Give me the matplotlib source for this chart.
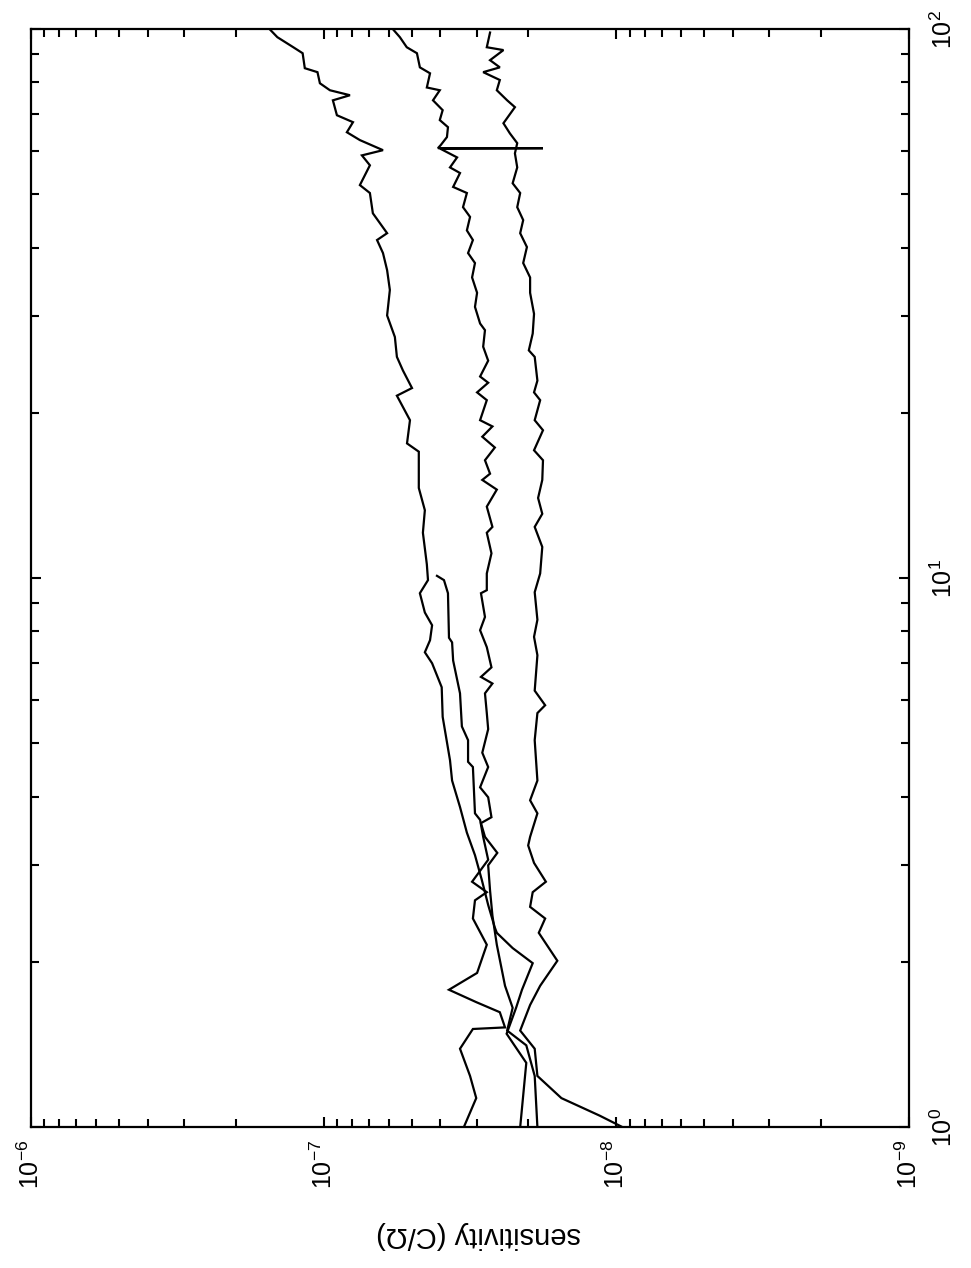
import matplotlib.pyplot as plt
from matplotlib.ticker import NullFormatter, LogLocator

plt.rcParams['font.family'] = ['Liberation Sans', 'DejaVu Sans']
plt.rcParams['mathtext.fontset'] = 'custom'
plt.rcParams['mathtext.rm'] = 'Liberation Sans'
plt.rcParams['mathtext.default'] = 'regular'

c1_freq = [100, 96.7, 92.7, 90.4, 84.9, 83.5, 79.7, 77.4, 75.8, 74.2, 69.7, 67.7,
           64.9, 62.8, 60.2, 58.9, 56.5, 52.0, 50.3, 46.2, 42.5, 41.3, 39.1, 36.4,
           33.5, 30.1, 27.5, 25.3, 23.9, 22.2, 21.5, 19.4, 17.6, 17.0, 14.6, 13.3,
           12.1, 10.6, 9.92, 9.39, 8.66, 8.21, 7.71, 7.33, 7.00, 6.33, 5.59, 4.66,
           4.28, 3.83, 3.44, 3.13, 2.82, 2.54, 2.31, 2.26, 2.12, 1.99, 1.78, 1.65,
           1.48, 1.31, 1.00]
c1_sens = [1.53e-7, 1.44e-7, 1.27e-7, 1.18e-7, 1.16e-7, 1.05e-7, 1.03e-7, 9.52e-8,
           8.13e-8, 9.30e-8, 9.01e-8, 7.94e-8, 8.33e-8, 7.52e-8, 6.27e-8, 7.40e-8,
           6.95e-8, 7.52e-8, 6.95e-8, 6.79e-8, 6.07e-8, 6.57e-8, 6.27e-8, 6.07e-8,
           5.94e-8, 6.07e-8, 5.71e-8, 5.62e-8, 5.36e-8, 4.99e-8, 5.62e-8, 5.07e-8,
           5.19e-8, 4.73e-8, 4.73e-8, 4.51e-8, 4.58e-8, 4.44e-8, 4.40e-8, 4.69e-8,
           4.51e-8, 4.26e-8, 4.33e-8, 4.51e-8, 4.26e-8, 3.95e-8, 3.92e-8, 3.70e-8,
           3.64e-8, 3.42e-8, 3.24e-8, 3.04e-8, 2.88e-8, 2.74e-8, 2.60e-8, 2.56e-8,
           2.26e-8, 1.93e-8, 2.10e-8, 2.20e-8, 2.37e-8, 2.03e-8, 2.13e-8]

c2_freq = [100, 96.7, 92.7, 90.4, 85.2, 83.1, 78.3, 77.4, 74.2, 71.2, 68.3, 66.3,
           63.6, 61.5, 60.7, 60.7, 60.6, 58.4, 56.0, 54.7, 51.6, 50.3, 47.4, 45.5,
           43.0, 41.3, 39.1, 37.5, 35.3, 33.1, 31.2, 29.1, 28.3, 26.4, 24.9, 23.3,
           22.7, 21.8, 21.1, 19.4, 18.9, 18.1, 17.3, 16.4, 15.5, 15.1, 14.5, 13.5,
           12.4, 12.1, 11.1, 10.2, 9.51, 9.39, 8.50, 8.04, 7.49, 6.88, 6.61, 6.43,
           6.17, 5.68, 5.31, 4.81, 4.53, 4.16, 3.99, 3.67, 3.58, 3.38, 3.16, 3.00,
           2.70, 2.43, 2.15, 1.81, 1.65, 1.50, 1.41, 1.24, 1.00]
c2_sens = [5.80e-8, 5.49e-8, 5.20e-8, 4.80e-8, 4.69e-8, 4.33e-8, 4.44e-8, 4.01e-8,
           4.23e-8, 3.92e-8, 4.01e-8, 3.76e-8, 3.79e-8, 3.98e-8, 4.07e-8, 1.78e-8,
           4.00e-8, 3.50e-8, 3.70e-8, 3.42e-8, 3.61e-8, 3.24e-8, 3.34e-8, 3.16e-8,
           3.24e-8, 3.09e-8, 3.21e-8, 3.04e-8, 3.11e-8, 2.99e-8, 3.04e-8, 2.92e-8,
           2.81e-8, 2.85e-8, 2.74e-8, 2.92e-8, 2.74e-8, 2.99e-8, 2.77e-8, 2.92e-8,
           2.65e-8, 2.87e-8, 2.60e-8, 2.81e-8, 2.70e-8, 2.87e-8, 2.56e-8, 2.77e-8,
           2.65e-8, 2.77e-8, 2.67e-8, 2.77e-8, 2.77e-8, 2.90e-8, 2.81e-8, 2.92e-8,
           2.77e-8, 2.67e-8, 2.90e-8, 2.65e-8, 2.81e-8, 2.77e-8, 2.74e-8, 2.87e-8,
           2.74e-8, 2.92e-8, 2.74e-8, 2.67e-8, 2.90e-8, 2.81e-8, 2.55e-8, 2.74e-8,
           2.70e-8, 2.65e-8, 2.56e-8, 2.40e-8, 2.26e-8, 2.36e-8, 2.03e-8, 1.90e-8,
           1.86e-8]

c3_freq = [98.6, 92.7, 91.6, 87.8, 85.2, 83.5, 80.8, 77.4, 74.2, 72.1, 67.4, 64.6,
           62.0, 59.4, 56.0, 52.4, 50.3, 47.4, 44.9, 42.5, 40.1, 37.5, 35.3, 33.1,
           30.3, 27.9, 26.0, 25.3, 22.9, 21.8, 21.1, 19.4, 18.6, 17.1, 16.4, 15.1,
           14.0, 13.1, 12.4, 11.4, 10.2, 9.43, 8.40, 7.82, 7.24, 6.24, 5.87, 5.68,
           5.07, 4.28, 3.94, 3.73, 3.38, 3.26, 3.03, 2.80, 2.68, 2.52, 2.40, 2.26,
           2.01, 1.81, 1.67, 1.50, 1.39, 1.24, 1.13, 1.05, 1.00]
c3_sens = [2.70e-8, 2.77e-8, 2.43e-8, 2.70e-8, 2.50e-8, 2.85e-8, 2.50e-8, 2.56e-8,
           2.36e-8, 2.22e-8, 2.43e-8, 2.31e-8, 2.18e-8, 2.22e-8, 2.18e-8, 2.26e-8,
           2.13e-8, 2.18e-8, 2.08e-8, 2.13e-8, 2.02e-8, 2.08e-8, 1.97e-8, 1.97e-8,
           1.91e-8, 1.93e-8, 1.99e-8, 1.90e-8, 1.86e-8, 1.91e-8, 1.82e-8, 1.90e-8,
           1.78e-8, 1.91e-8, 1.78e-8, 1.79e-8, 1.85e-8, 1.79e-8, 1.90e-8, 1.79e-8,
           1.82e-8, 1.90e-8, 1.86e-8, 1.91e-8, 1.86e-8, 1.90e-8, 1.75e-8, 1.86e-8,
           1.90e-8, 1.86e-8, 1.97e-8, 1.86e-8, 1.97e-8, 2.00e-8, 1.91e-8, 1.74e-8,
           1.93e-8, 1.97e-8, 1.75e-8, 1.84e-8, 1.59e-8, 1.82e-8, 1.97e-8, 2.13e-8,
           1.90e-8, 1.86e-8, 1.54e-8, 1.14e-8, 9.5e-9]

c4_freq = [10.1, 9.92, 9.39, 7.79, 7.64, 7.08, 6.17, 5.37, 5.07, 4.63, 4.53, 3.73,
           3.63, 3.38, 3.07, 2.80, 2.68, 2.59, 2.40, 2.15, 1.91, 1.78, 1.69, 1.62,
           1.52, 1.51, 1.39, 1.24, 1.13, 1.00]
c4_sens = [4.10e-8, 3.88e-8, 3.76e-8, 3.73e-8, 3.64e-8, 3.61e-8, 3.42e-8, 3.37e-8,
           3.21e-8, 3.21e-8, 3.09e-8, 3.04e-8, 2.92e-8, 2.85e-8, 2.74e-8, 3.11e-8,
           2.77e-8, 3.04e-8, 3.09e-8, 2.77e-8, 2.99e-8, 3.73e-8, 3.01e-8, 2.50e-8,
           2.40e-8, 3.09e-8, 3.42e-8, 3.16e-8, 3.01e-8, 3.32e-8]

sens_ticks = [1e-6, 1e-7, 1e-8, 1e-9]
sens_labels = ['$10^{-6}$', '$10^{-7}$', '$10^{-8}$', '$10^{-9}$']
freq_ticks = [1, 10, 100]
freq_labels = ['$10^{0}$', '$10^{1}$', '$10^{2}$']

fig = plt.figure(figsize=(9.71, 12.68), dpi=100, facecolor='white')
ax = fig.add_axes([0.032, 0.111, 0.904, 0.866])

for s, f in [(c1_sens, c1_freq), (c2_sens, c2_freq), (c3_sens, c3_freq), (c4_sens, c4_freq)]:
    ax.plot(s, f, color='black', lw=1.6, solid_joinstyle='miter')

ax.set_xscale('log')
ax.set_yscale('log')
ax.set_xlim(1e-6, 1e-9)
ax.set_ylim(1, 100)

ax.set_xticks(sens_ticks, sens_labels)
ax.set_yticks(freq_ticks, freq_labels)
ax.xaxis.set_minor_locator(LogLocator(base=10, subs=range(2, 10)))
ax.yaxis.set_minor_locator(LogLocator(base=10, subs=range(2, 10)))
ax.xaxis.set_minor_formatter(NullFormatter())
ax.yaxis.set_minor_formatter(NullFormatter())

ax.tick_params(which='both', direction='in', top=True, bottom=True, left=True, right=True,
               labelleft=False, labelright=True, labeltop=False, labelbottom=True,
               width=1.5, colors='black')
ax.tick_params(which='major', length=7)
ax.tick_params(which='minor', length=6)
ax.tick_params(axis='x', labelsize=18, pad=9, labelrotation=90)
ax.tick_params(axis='y', labelsize=18, pad=16, labelrotation=90)
for lab in ax.get_yticklabels():
    lab.set_verticalalignment('center')

for sp in ax.spines.values():
    sp.set_linewidth(1.6)

# axis label is printed upside down in the scanned figure
ax.text(0.51, -0.098, 'sensitivity (C/\u03a9)', transform=ax.transAxes,
        fontsize=21, rotation=180, ha='center', va='center')

fig.savefig('out.png', dpi=100, facecolor='white')
